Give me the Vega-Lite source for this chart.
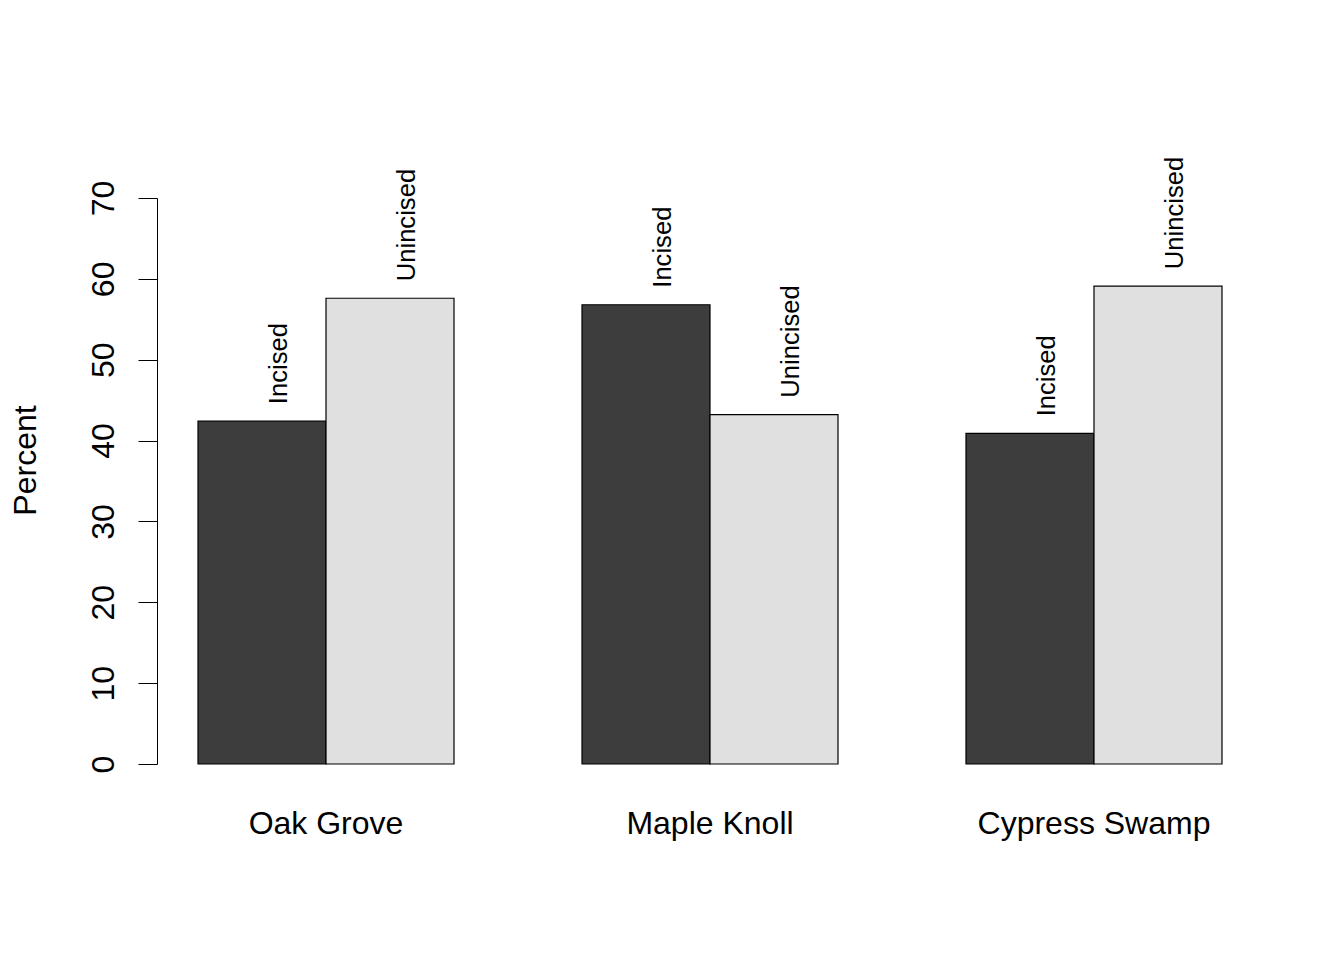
{
  "$schema": "https://vega.github.io/schema/vega-lite/v6.json",
  "autosize": "none",
  "width": 1106,
  "height": 566,
  "padding": {"left": 157, "top": 198, "right": 81, "bottom": 196},
  "background": "white",
  "config": {
    "view": {"stroke": null},
    "font": "Liberation Sans",
    "axis": {
      "labelFont": "Liberation Sans",
      "titleFont": "Liberation Sans",
      "labelColor": "black",
      "titleColor": "black",
      "domainColor": "black",
      "tickColor": "black",
      "labelLimit": 0,
      "grid": false
    }
  },
  "data": {
    "values": [
      {"site": "Oak Grove", "type": "Incised", "percent": 42.4},
      {"site": "Oak Grove", "type": "Unincised", "percent": 57.6},
      {"site": "Maple Knoll", "type": "Incised", "percent": 56.8},
      {"site": "Maple Knoll", "type": "Unincised", "percent": 43.2},
      {"site": "Cypress Swamp", "type": "Incised", "percent": 40.9},
      {"site": "Cypress Swamp", "type": "Unincised", "percent": 59.1}
    ]
  },
  "encoding": {
    "x": {
      "field": "site",
      "type": "nominal",
      "sort": ["Oak Grove", "Maple Knoll", "Cypress Swamp"],
      "scale": {"paddingInner": 0.33333, "paddingOuter": 0.1068},
      "axis": {
        "title": null,
        "domain": false,
        "ticks": false,
        "labelAngle": 0,
        "labelFontSize": 32,
        "labelPadding": 69,
        "labelBaseline": "alphabetic",
        "labelLimit": 0
      }
    },
    "xOffset": {
      "field": "type",
      "type": "nominal",
      "sort": ["Incised", "Unincised"],
      "scale": {"paddingInner": 0, "paddingOuter": 0}
    },
    "y": {
      "field": "percent",
      "type": "quantitative",
      "scale": {"domain": [0, 70], "nice": false},
      "axis": {
        "title": "Percent",
        "values": [0, 10, 20, 30, 40, 50, 60, 70],
        "domainWidth": 1,
        "tickSize": 19,
        "tickWidth": 1,
        "labelFontSize": 32,
        "labelAngle": 270,
        "labelAlign": "center",
        "labelBaseline": "alphabetic",
        "labelPadding": 25,
        "labelFlush": false,
        "labelOverlap": false,
        "titleFontSize": 32,
        "titleFontWeight": "normal",
        "titleAngle": 270,
        "titleAlign": "center",
        "titleBaseline": "alphabetic",
        "titleX": -122,
        "titleY": 262
      }
    }
  },
  "layer": [
    {
      "mark": {"type": "bar", "stroke": "black", "strokeWidth": 1.2, "opacity": 1},
      "encoding": {
        "color": {
          "field": "type",
          "type": "nominal",
          "scale": {"domain": ["Incised", "Unincised"], "range": ["#3d3d3d", "#e0e0e0"]},
          "legend": null
        }
      }
    },
    {
      "mark": {
        "type": "text",
        "angle": 270,
        "align": "left",
        "baseline": "alphabetic",
        "dx": 17,
        "dy": 25,
        "fontSize": 25.6,
        "font": "Liberation Sans",
        "color": "black"
      },
      "encoding": {
        "text": {"field": "type", "type": "nominal"}
      }
    }
  ]
}
